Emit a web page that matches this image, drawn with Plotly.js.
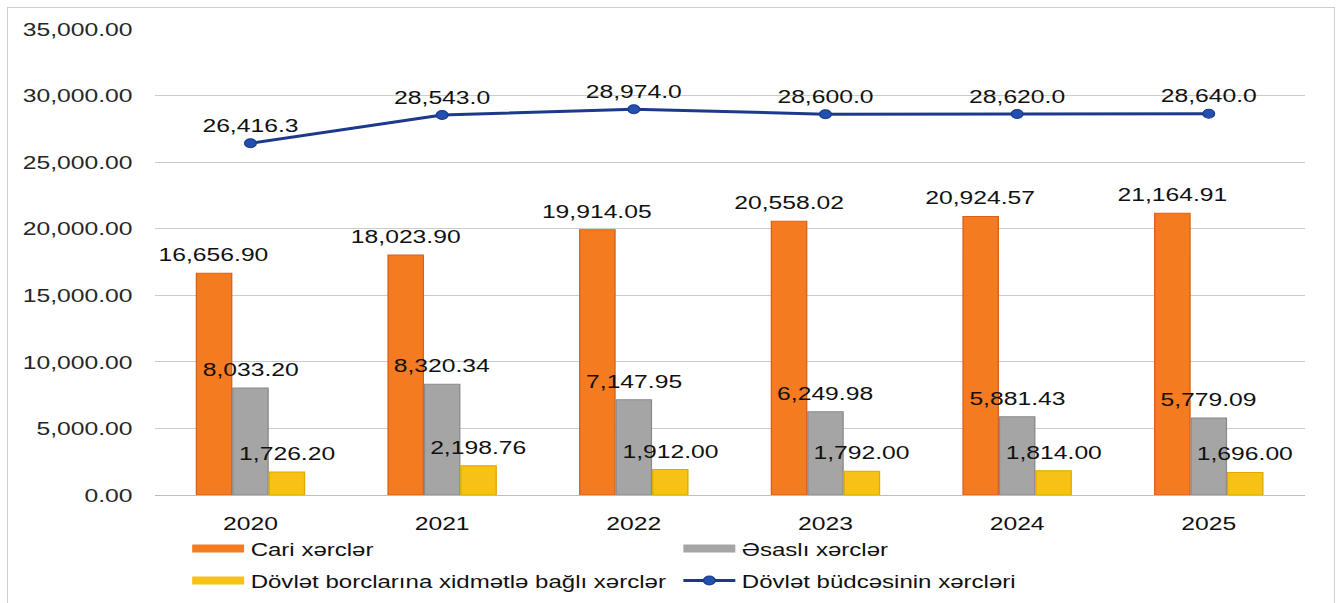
<!DOCTYPE html>
<html>
<head>
<meta charset="utf-8">
<script src="https://cdn.plot.ly/plotly-3.0.1.min.js"></script>
<style>
html,body{margin:0;padding:0;overflow:hidden;background:#fff;width:1341px;height:603px;}
#frame{position:absolute;left:7px;top:7px;width:1328px;height:700px;border:1.5px solid #cfcfcf;border-bottom:none;box-sizing:border-box;}
#chart{position:absolute;left:0;top:0;width:1032px;height:603px;transform:scaleX(1.29942);transform-origin:0 0;}
</style>
</head>
<body>
<div id="frame"></div>
<div id="chart"></div>
<script>
var years = ['2020', '2021', '2022', '2023', '2024', '2025'];
var cari = [16656.90, 18023.90, 19914.05, 20558.02, 20924.57, 21164.91];
var esasli = [8033.20, 8320.34, 7147.95, 6249.98, 5881.43, 5779.09];
var borc = [1726.20, 2198.76, 1912.00, 1792.00, 1814.00, 1696.00];
var budce = [26416.3, 28543.0, 28974.0, 28600.0, 28620.0, 28640.0];
var names = ['Cari xərclər', 'Əsaslı xərclər', 'Dövlət borclarına xidmətlə bağlı xərclər', 'Dövlət büdcəsinin xərcləri'];

var FONT = 'Liberation Sans, Arial, sans-serif';
var TXT = '#111111';
var cOrange = '#F47B20', cOrangeEdge = '#D9601A';
var cGray = '#A5A5A5', cGrayEdge = '#8a8a8a';
var cYellow = '#F6C215', cYellowEdge = '#E0A800';
var cLine = '#1C3A8C', cMarker = '#2150AE';

var BARGAP = 0.43;
var series = [
  {vals: cari, name: names[0], fill: cOrange, edge: cOrangeEdge},
  {vals: esasli, name: names[1], fill: cGray, edge: cGrayEdge},
  {vals: borc, name: names[2], fill: cYellow, edge: cYellowEdge}
];

var traces = [];
var annotations = [];
var nS = series.length;
var slot = (1 - BARGAP) / nS;
series.forEach(function (s, k) {
  traces.push({
    type: 'bar', x: years, y: s.vals, name: s.name, showlegend: false,
    marker: {color: s.fill, line: {color: s.edge, width: 1}},
    hoverinfo: 'x+y'
  });
  var off = (k - (nS - 1) / 2) * slot;
  s.vals.forEach(function (v, i) {
    annotations.push({
      xref: 'x', yref: 'y', x: i + off, y: v,
      text: Plotly.d3 ? '' : '', showarrow: false
    });
    var a = annotations[annotations.length - 1];
    a.text = v.toLocaleString('en-US', {minimumFractionDigits: 2, maximumFractionDigits: 2});
    a.xanchor = 'center'; a.yanchor = 'bottom'; a.yshift = 6;
    a.font = {family: FONT, size: 19, color: TXT};
  });
});

traces.push({
  type: 'scatter', mode: 'lines+markers+text', x: years, y: budce, name: names[3],
  showlegend: false,
  line: {color: cLine, width: 3},
  marker: {color: cMarker, size: 9, line: {color: cLine, width: 1}},
  texttemplate: '%{y:,.1f}', textposition: 'top center', cliponaxis: false,
  textfont: {family: FONT, size: 19, color: TXT}
});

// legend entries
traces.push(
  {type: 'scatter', mode: 'lines', x: [null], y: [null], name: names[0], legend: 'legend',
   line: {color: cOrange, width: 8}, hoverinfo: 'skip'},
  {type: 'scatter', mode: 'lines', x: [null], y: [null], name: names[1], legend: 'legend',
   line: {color: cGray, width: 8}, hoverinfo: 'skip'},
  {type: 'scatter', mode: 'lines', x: [null], y: [null], name: names[2], legend: 'legend2',
   line: {color: cYellow, width: 8}, hoverinfo: 'skip'},
  {type: 'scatter', mode: 'lines+markers', x: [null], y: [null], name: names[3], legend: 'legend2',
   line: {color: cLine, width: 3}, marker: {color: cMarker, size: 9, line: {color: cLine, width: 1}}, hoverinfo: 'skip'}
);

var legendCommon = {
  orientation: 'h', xanchor: 'left', yanchor: 'middle', x: 0.027,
  font: {family: FONT, size: 18.5, color: TXT},
  itemwidth: 40, entrywidth: 323, bgcolor: 'rgba(0,0,0,0)', traceorder: 'normal',
  itemclick: false, itemdoubleclick: false
};

var layout = {
  width: 1032, height: 603,
  margin: {l: 119, r: 28, t: 29, b: 108, autoexpand: false},
  paper_bgcolor: 'rgba(0,0,0,0)', plot_bgcolor: 'rgba(0,0,0,0)',
  font: {family: FONT, color: TXT},
  barmode: 'group', bargap: BARGAP, bargroupgap: 0.03,
  xaxis: {
    type: 'category', showgrid: false, showline: false, ticks: '',
    tickfont: {family: FONT, size: 19, color: TXT}, ticklabelstandoff: 15
  },
  yaxis: {
    range: [0, 35000], dtick: 5000, tick0: 0, tickformat: ',.2f',
    showgrid: true, gridcolor: '#cccccc', gridwidth: 1,
    zeroline: true, zerolinecolor: '#bdbdbd', zerolinewidth: 1,
    showline: false, ticks: '', ticklabelstandoff: 16,
    tickfont: {family: FONT, size: 19, color: '#262626'}
  },
  annotations: annotations,
  legend: Object.assign({}, legendCommon, {y: -0.1159}),
  legend2: Object.assign({}, legendCommon, {y: -0.1845}),
  showlegend: true
};

Plotly.newPlot('chart', traces, layout, {displayModeBar: false, staticPlot: true});
</script>
</body>
</html>
